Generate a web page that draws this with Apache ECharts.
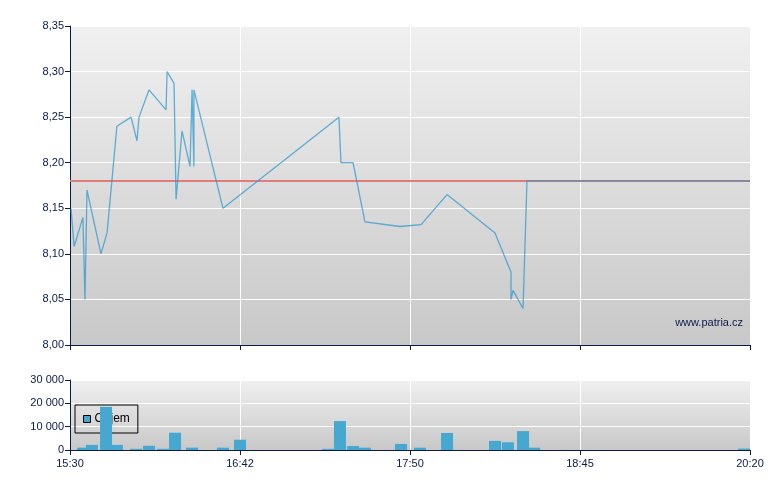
<!DOCTYPE html>
<html><head><meta charset="utf-8">
<script src="https://cdn.jsdelivr.net/npm/echarts@6/dist/echarts.min.js"></script>
<style>html,body{margin:0;padding:0;background:#fff}#c{width:780px;height:490px}</style>
</head><body><div id="c"></div>
<script>
// x positions are in axis-segment units (0..4), matching tick labels below
const tickLabels = ['15:30', '16:42', '17:50', '18:45', '20:20'];
const priceX = [0.006,0.024,0.076,0.088,0.1,0.182,0.218,0.276,0.359,0.394,0.406,0.465,0.565,0.571,0.612,0.624,0.659,0.706,0.718,0.729,0.729,0.735,0.9,1.582,1.594,1.665,1.735,1.941,2.065,2.218,2.5,2.594,2.594,2.606,2.665,2.688,4.0];
const priceY = [8.15,8.108,8.14,8.05,8.17,8.10,8.123,8.24,8.25,8.224,8.25,8.28,8.258,8.30,8.287,8.16,8.235,8.196,8.28,8.196,8.28,8.28,8.15,8.25,8.20,8.20,8.135,8.13,8.132,8.165,8.123,8.08,8.05,8.06,8.04,8.18,8.18];
const refPrice = 8.18;
const volX = [0.076,0.129,0.212,0.276,0.388,0.465,0.547,0.618,0.718,0.9,1.0,1.518,1.588,1.665,1.735,1.947,2.059,2.218,2.5,2.576,2.665,2.73,3.965];
const volY = [1000,2200,18500,2200,500,1800,500,7400,1000,1000,4400,500,12400,1700,1000,2600,1000,7300,3900,3300,8100,1000,600];

const navy = '#0a1a4a';
const font = 'Liberation Sans, Arial, sans-serif';
const bg = {type:'linear',x:0,y:0,x2:0,y2:1,colorStops:[{offset:0,color:'#f0f0f0'},{offset:1,color:'#c8c8c8'}]};
const xAxisBase = (gi, showLabels) => ({
  type:'value', gridIndex:gi, min:0, max:4, interval:1,
  axisLine:{show:true,onZero:false,lineStyle:{color:navy,width:1}},
  axisTick:{show:true,length:5,lineStyle:{color:navy}},
  axisLabel:{show:showLabels,color:navy,fontFamily:font,fontSize:11,margin:8,formatter:v=>tickLabels[Math.round(v)]},
  splitLine:{show:true,lineStyle:{color:'#ffffff',width:1}}
});
const chart = echarts.init(document.getElementById('c'), null, {renderer:'canvas'});
chart.setOption({
  animation:false,
  backgroundColor:'#ffffff',
  grid:[
    {left:70, top:26, width:680, height:319, show:true, backgroundColor:bg, borderWidth:0},
    {left:70, top:380, width:680, height:70, show:true, backgroundColor:bg, borderWidth:0}
  ],
  xAxis:[xAxisBase(0,false), xAxisBase(1,true)],
  yAxis:[
    {type:'value', gridIndex:0, min:8.0, max:8.35, interval:0.05,
     axisLine:{show:true,lineStyle:{color:navy}}, axisTick:{show:true,length:5,lineStyle:{color:navy}},
     axisLabel:{color:navy,fontFamily:font,fontSize:11,margin:6,formatter:v=>v.toFixed(2).replace('.',',')},
     splitLine:{show:true,lineStyle:{color:'#ffffff'}}},
    {type:'value', gridIndex:1, min:0, max:30000, interval:10000,
     axisLine:{show:true,lineStyle:{color:navy}}, axisTick:{show:true,length:5,lineStyle:{color:navy}},
     axisLabel:{color:navy,fontFamily:font,fontSize:11,margin:6,formatter:v=>String(v).replace(/\B(?=(\d{3})+(?!\d))/g,' ')},
     splitLine:{show:true,lineStyle:{color:'#ffffff'}}}
  ],
  legend:{
    data:[{name:'Objem', icon:'rect', itemStyle:{color:'#46a7d0', borderColor:'#000', borderWidth:1}}],
    left:75, top:405, orient:'vertical', z:1,
    borderColor:'#000', borderWidth:1, padding:[8,8,8,8],
    itemWidth:7, itemHeight:7, itemGap:0,
    textStyle:{color:'#000',fontFamily:font,fontSize:12, padding:[0,0,0,-1]}
  },
  graphic:[{type:'text', right:37, top:317, style:{text:'www.patria.cz', fill:navy, font:'11px '+font}}],
  series:[
    {type:'line', xAxisIndex:0, yAxisIndex:0, data:[[0,refPrice],[4,refPrice]], symbol:'none',
     lineStyle:{color:'#e07c7c',width:2}, silent:true, z:2},
    {type:'line', xAxisIndex:0, yAxisIndex:0, data:priceX.map((x,i)=>[x,priceY[i]]), symbol:'none',
     lineStyle:{color:'#2896cd',width:1.3,opacity:0.72}, z:3},
    {name:'Objem', type:'bar', xAxisIndex:1, yAxisIndex:1, data:volX.map((x,i)=>[x,volY[i]]), barWidth:12, clip:true,
     itemStyle:{color:'#46a7d0'}, z:3}
  ]
});
</script></body></html>
